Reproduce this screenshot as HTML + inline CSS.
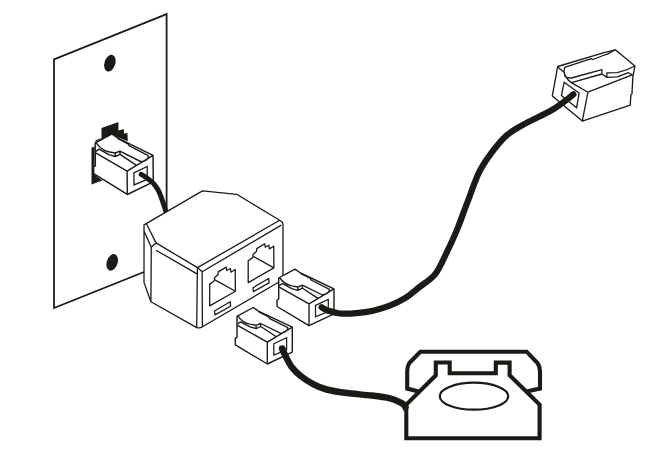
<!DOCTYPE html>
<html><head><meta charset="utf-8"><style>html,body{margin:0;padding:0;background:#fff;width:663px;height:466px;overflow:hidden}svg{display:block}</style></head>
<body><svg width="663" height="466" viewBox="0 0 663 466">
<rect width="663" height="466" fill="#fff"/>
<!-- wall plate -->
<path d="M166.6,212 L166.6,14.2 L54,59.4 L54,308 L144,272" fill="none" stroke="#1c1a16" stroke-width="1.8"/>
<ellipse cx="109.9" cy="63.2" rx="5.4" ry="8.6" transform="rotate(18 109.9 63.2)" fill="#1c1a16"/>
<ellipse cx="112.2" cy="262.4" rx="5.4" ry="8.6" transform="rotate(18 112.2 262.4)" fill="#1c1a16"/>
<!-- wall jack shadow -->
<path d="M101.5,128.1 L118.4,122.1 L118.4,130.4 L123.7,128.9 L124.1,133.8 L127.4,132.7 L127.8,141.3 L112,135 L96,141.5 L95.5,143 L95.5,140.3 L101.5,138.3 Z" fill="#1c1a16"/>
<path d="M91.5,147.7 L94.5,146.4 L94.5,174.8 L102.4,180.6 L91.5,184.5 Z" fill="#1c1a16"/>
<!-- wall plug -->
<g transform="matrix(1.0448 0.0078 0.0109 1.0687 -199.071 -156.038)">
<path d="M279.5,277.5 L294.9,269.2 L300.5,273 L334,288.9 L334,313.8 L309,325.7 L277,306.5 L277,300 L278.7,299 L278.7,278 Z" fill="#fff" stroke="#1c1a16" stroke-width="1.4" stroke-linejoin="round"/>
<path d="M309,303.8 L309,325.7 M309,303.8 L334,288.9 M278.7,286.8 L309,303.8
M279.3,285.6 L282.3,283.5 L291.7,288.6 L297.8,290.3 L302.5,288.2 L318,298.4
M279.5,277.5 C283,282.5 287,285 291.4,285.9 L297.8,287 L302.3,285.2 L322.5,295 Q329.5,294 329.5,289.3
M297.8,286.8 L297.8,290 M302.3,285.2 L302.4,288.3
M300.5,273.5 L310.5,278.5 L311,280 L329.5,289.3" fill="none" stroke="#1c1a16" stroke-width="1.35" stroke-linejoin="round"/>
<path d="M315.5,305.4 L328.3,299.4 L328.3,311.5 L315.5,316.8 Z" fill="none" stroke="#1c1a16" stroke-width="1.25"/>
</g>
<!-- wall cord -->
<path d="M141.2,174.4 C142.1,174.9 144.6,176.3 146.6,177.7 C148.6,179.1 151.1,181.1 153.0,183.0 C154.9,184.9 156.5,187.1 157.8,189.4 C159.2,191.7 160.1,194.5 161.1,197.0 C162.1,199.5 162.9,202.2 163.7,204.5 C164.5,206.8 165.4,209.9 165.7,211.0" fill="none" stroke="#1c1a16" stroke-width="5" stroke-linecap="round"/>
<!-- splitter -->
<path d="M144,282.4 L144,224.9 L202.5,190.9 L236.7,194.3 L279.7,220.3 Q282.3,221.8 282.3,224.5 L282.3,300 L245,302.4 L203.3,326.6 Q200,328.6 196.7,327.6 L150.9,301.8 Z" fill="#fff" stroke="none"/>
<path d="M144,282.4 L144,224.9 L202.5,190.9 L236.7,194.3 L279.7,220.3 Q283,221.8 283,224.5 L283,285
M144,282.4 L150.9,301.8 L196.7,327.6 Q200,328.6 202.4,326.8 L279,282
M144,230.9 L151.3,247.2 L156,242.9 L146.6,224
M151.3,247.2 L150.9,301.8
M156,242.9 L197.5,267.6 L279.7,220.3
M156,250.2 L196.5,273.6
M197.4,267.8 L196.7,327.6 M202.1,271.8 L202.4,326.8
M197.5,267.6 L202.1,271.8 L281.3,225.1" fill="none" stroke="#1c1a16" stroke-width="1.3" stroke-linejoin="round"/>
<g id="jack">
<path d="M209.7,305.9 L209.7,284.1 L213.9,281.2 L214.5,280.3 L214.5,277.7 L217.9,274.8 L218.3,271.9 L226.1,267.1 L226.8,270.5 L230.4,268.5 L230.9,272.2 L235.2,269.5 L235.4,291.2 Z
M214.5,279.6 L235.4,291.2
M214.5,311 L230.2,301.8 L230.6,306.2 L215,314.9 Z" fill="none" stroke="#1c1a16" stroke-width="1.3" stroke-linejoin="round"/>
</g>
<g transform="translate(38.5 -23.3)">
<path d="M209.7,305.9 L209.7,284.1 L213.9,281.2 L214.5,280.3 L214.5,277.7 L217.9,274.8 L218.3,271.9 L226.1,267.1 L226.8,270.5 L230.4,268.5 L230.9,272.2 L235.2,269.5 L235.4,291.2 Z
M214.5,279.6 L235.4,291.2
M214.5,311 L230.2,301.8 L230.6,306.2 L215,314.9 Z" fill="none" stroke="#1c1a16" stroke-width="1.3" stroke-linejoin="round"/>
</g>
<!-- splitter plugs -->
<g>
<path d="M279.5,277.5 L294.9,269.2 L300.5,273 L334,288.9 L334,313.8 L309,325.7 L277,306.5 L277,300 L278.7,299 L278.7,278 Z" fill="#fff" stroke="#1c1a16" stroke-width="1.4" stroke-linejoin="round"/>
<path d="M309,303.8 L309,325.7 M309,303.8 L334,288.9 M278.7,286.8 L309,303.8
M279.3,285.6 L282.3,283.5 L291.7,288.6 L297.8,290.3 L302.5,288.2 L318,298.4
M279.5,277.5 C283,282.5 287,285 291.4,285.9 L297.8,287 L302.3,285.2 L322.5,295 Q329.5,294 329.5,289.3
M297.8,286.8 L297.8,290 M302.3,285.2 L302.4,288.3
M300.5,273.5 L310.5,278.5 L311,280 L329.5,289.3" fill="none" stroke="#1c1a16" stroke-width="1.35" stroke-linejoin="round"/>
<path d="M315.5,305.4 L328.3,299.4 L328.3,311.5 L315.5,316.8 Z" fill="none" stroke="#1c1a16" stroke-width="1.25"/>
</g>
<g transform="translate(-41.7 38.3)">
<path d="M279.5,277.5 L294.9,269.2 L300.5,273 L334,288.9 L334,313.8 L309,325.7 L277,306.5 L277,300 L278.7,299 L278.7,278 Z" fill="#fff" stroke="#1c1a16" stroke-width="1.4" stroke-linejoin="round"/>
<path d="M309,303.8 L309,325.7 M309,303.8 L334,288.9 M278.7,286.8 L309,303.8
M279.3,285.6 L282.3,283.5 L291.7,288.6 L297.8,290.3 L302.5,288.2 L318,298.4
M279.5,277.5 C283,282.5 287,285 291.4,285.9 L297.8,287 L302.3,285.2 L322.5,295 Q329.5,294 329.5,289.3
M297.8,286.8 L297.8,290 M302.3,285.2 L302.4,288.3
M300.5,273.5 L310.5,278.5 L311,280 L329.5,289.3" fill="none" stroke="#1c1a16" stroke-width="1.35" stroke-linejoin="round"/>
<path d="M315.5,305.4 L328.3,299.4 L328.3,311.5 L315.5,316.8 Z" fill="none" stroke="#1c1a16" stroke-width="1.25"/>
</g>
<!-- top right plug -->
<path d="M557.7,66.5 L604,52.6 L615.3,49.8 L634.9,66 L632.8,77.6 L632,94 L630.9,95 L630.2,105.1 L582.3,121.1 L552.3,95.9 Z" fill="#fff" stroke="#1c1a16" stroke-width="1.35" stroke-linejoin="round"/>
<path d="M564.6,67.4 L591.3,58.6 L592.9,59.5 L601.9,56 L607.9,53.9 L615.3,49.8
M564.6,67.4 Q563.2,72 565,76.6 Q567,78.2 571.4,78 L601.9,69.6 L601.9,74 L606.9,77.4 L606.9,72.9 L617.3,72.7 Q627,70.5 634.9,66
M557.7,67 L564.2,72.5 Q565.5,78.5 571.4,82.6 L587.9,92.2 M571.4,82.6 L601.9,74 M606.9,77.4 L617.3,76.9 L628.5,72.7 L632.8,75.1
M587.9,92.2 L632.8,74.6 M587.9,92.2 L582.3,121.1" fill="none" stroke="#1c1a16" stroke-width="1.3" stroke-linejoin="round"/>
<path d="M564.1,82.3 L579.1,93 L576.6,107.7 L561.4,95.6 Z" fill="none" stroke="#1c1a16" stroke-width="1.3"/>
<!-- cord 1 -->
<path d="M321.6,307.3 C322.7,307.9 325.2,309.7 328.3,310.7 C331.4,311.7 335.2,313.1 339.9,313.5 C344.6,313.9 351.0,313.6 356.5,313.1 C362.0,312.6 367.6,311.9 373.1,310.7 C378.6,309.5 384.2,307.9 389.7,305.7 C395.2,303.5 401.3,300.5 406.3,297.4 C411.3,294.3 414.6,290.9 419.5,287.0 C424.4,283.1 430.8,279.7 435.4,273.8 C440.0,267.9 443.5,259.1 447.2,251.4 C450.9,243.7 454.9,234.9 457.8,227.8 C460.8,220.7 463.1,213.5 464.9,208.9 C466.6,204.3 466.0,206.0 468.3,200.0 C470.6,194.0 475.2,180.4 478.9,172.7 C482.6,165.0 486.0,160.1 490.7,153.8 C495.4,147.5 501.3,140.0 507.2,134.9 C513.1,129.8 519.0,127.0 526.1,123.1 C533.2,119.2 543.5,114.8 549.8,111.3 C556.1,107.8 560.1,104.6 564.0,101.8 C567.9,99.0 571.8,95.5 573.4,94.3" fill="none" stroke="#1c1a16" stroke-width="6.2" stroke-linecap="round"/>
<!-- cord 2 -->
<path d="M282.1,348.4 C282.6,349.6 283.7,352.3 285.3,355.4 C286.9,358.5 289.1,363.6 291.7,367.0 C294.3,370.4 297.0,373.1 300.7,376.0 C304.4,378.9 309.3,382.1 313.6,384.4 C317.9,386.6 321.3,388.1 326.5,389.5 C331.7,390.9 337.4,391.8 345.0,392.8 C352.6,393.8 364.3,394.7 371.8,395.6 C379.3,396.5 385.1,397.2 389.9,398.3 C394.7,399.4 398.1,401.3 400.5,402.5 C402.9,403.7 403.6,404.4 404.6,405.6 C405.6,406.8 406.0,408.9 406.3,409.5" fill="none" stroke="#1c1a16" stroke-width="6.5" stroke-linecap="butt"/>
<circle cx="282.1" cy="348.4" r="3.25" fill="#1c1a16"/>
<!-- phone -->
<path d="M418.5,391.6 L407.2,388.6 L407.2,371 Q407.2,366.5 409.3,363 L420.3,351.7 L526.6,351.7 L537.5,363 Q540,366.5 540,371 L540,388.6 L526.5,391.6" fill="none" stroke="#1c1a16" stroke-width="4.1" stroke-linejoin="miter"/>
<path d="M406.3,438.2 L406.3,404.5 L435.8,375.3 L435.8,362.5 L449.7,362.5 L449.7,373.3 L495.8,373.3 L495.8,362.6 L509.6,362.6 L509.6,375.3 L539.6,404.5 L539.6,438.2 Z" fill="none" stroke="#1c1a16" stroke-width="4.1" stroke-linejoin="miter"/>
<ellipse cx="474" cy="396.2" rx="34.2" ry="13.5" fill="none" stroke="#1c1a16" stroke-width="2.2"/>
</svg></body></html>
